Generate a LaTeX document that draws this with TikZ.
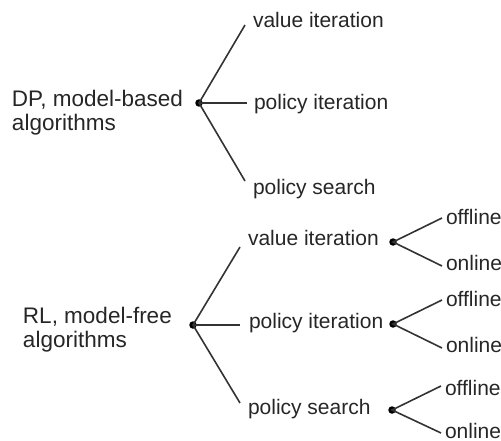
\documentclass[tikz,border=0pt]{standalone}
\usepackage{fontspec}
\setmainfont{Liberation Sans}
\begin{document}
\begin{tikzpicture}[x=1pt,y=-1pt,
  lbl/.style={anchor=base west,inner sep=0pt,outer sep=0pt,font=\fontsize{21}{24}\selectfont,text=black!85},
  mlbl/.style={lbl,align=left,font=\fontsize{22.5}{24}\selectfont},
  dot/.style={circle,fill=black,inner sep=0pt,minimum size=7.5pt},
  br/.style={line width=1.6pt,black!80}]
\useasboundingbox (0,0) rectangle (501,441);
% upper tree
\node[mlbl] (dp) at (12,131) {DP, model-based\\algorithms};
\node[dot] (d1) at (199,103) {};
\coordinate (d1a) at (245,25);
\coordinate (d1b) at (247,103);
\coordinate (d1c) at (245,181);
\node[lbl] (vi1) at (253,28) {value iteration};
\node[lbl] (pi1) at (254,110) {policy iteration};
\node[lbl] (ps1) at (253,195) {policy search};
\draw[br] (d1a) -- (d1.center) -- (d1c);
\draw[br] (d1.center) -- (d1b);
% lower tree
\node[mlbl] (rl) at (23,347) {RL, model-free\\algorithms};
\node[dot] (d2) at (193,325) {};
\coordinate (d2a) at (240,247);
\coordinate (d2b) at (240,325);
\coordinate (d2c) at (240,403);
\node[lbl] (vi2) at (248,245) {value iteration};
\node[lbl] (pi2) at (249,328) {policy iteration};
\node[lbl] (ps2) at (248,414) {policy search};
\draw[br] (d2a) -- (d2.center) -- (d2c);
\draw[br] (d2.center) -- (d2b);
% sub-trees
\node[dot] (s1) at (393,242) {};
\coordinate (s1a) at (442,218);
\coordinate (s1b) at (442,266);
\node[lbl] (off1) at (446,224) {offline};
\node[lbl] (on1) at (446,270) {online};
\draw[br] (s1a) -- (s1.center) -- (s1b);
\node[dot] (s2) at (393,324) {};
\coordinate (s2a) at (442,300);
\coordinate (s2b) at (442,348);
\node[lbl] (off2) at (446,306) {offline};
\node[lbl] (on2) at (446,352) {online};
\draw[br] (s2a) -- (s2.center) -- (s2b);
\node[dot] (s3) at (392,410) {};
\coordinate (s3a) at (441,386);
\coordinate (s3b) at (441,433);
\node[lbl] (off3) at (445,395) {offline};
\node[lbl] (on3) at (445,438) {online};
\draw[br] (s3a) -- (s3.center) -- (s3b);
\end{tikzpicture}
\end{document}
